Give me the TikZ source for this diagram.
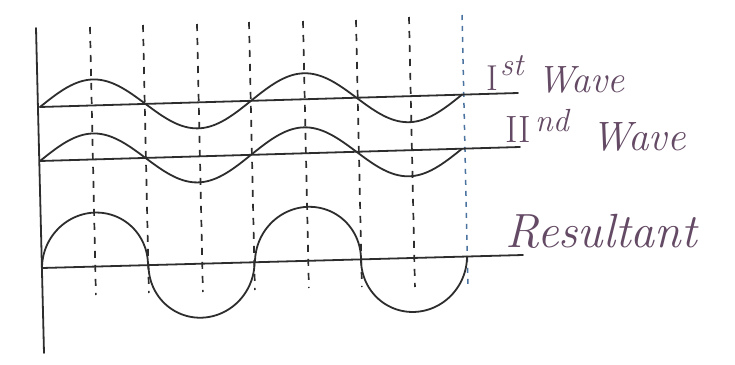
\documentclass[tikz,border=0pt]{standalone}
\usepackage{fontspec}
\definecolor{ink}{RGB}{100,74,100}
\definecolor{pen}{RGB}{45,45,45}
\definecolor{bluepen}{RGB}{75,115,160}
\begin{document}
\begin{tikzpicture}[x=1pt,y=-1pt,line cap=round,
  declare function={wa(\t)=107-0.0293*(\t-40);wb(\t)=161-0.029*(\t-40);rb(\t)=268-0.027*(\t-42);},
  penline/.style={draw=pen,line width=1.8pt},
  guide/.style={draw=pen,line width=1.7pt,line cap=butt,dash pattern=on 7pt off 7pt},
  blueguide/.style={draw=bluepen,line width=1.5pt,line cap=butt,dash pattern=on 5pt off 6pt},
  lbl/.style={text=ink,inner sep=0pt,anchor=base west}]
\useasboundingbox[fill=white] (0,0) rectangle (735,364);
% axis
\coordinate (axT) at (36,28);
\coordinate (axB) at (44,353);
\draw[penline] (axT) -- (axB);
% dashed guides
\foreach \xt/\ya/\yb in {90/27/295,143/25/293,197/24/292,249/22/290,303/21/288,356/20/287,409/17/287}{
  \draw[guide] (\xt,\ya) -- ({\xt+0.022*(\yb-\ya)},\yb);
}
\draw[blueguide] (462,15) -- (468,286);
% first wave
\coordinate (a0) at (40,107);
\coordinate (a1) at (518,93);
\draw[penline] (a0) -- (a1);
\draw[penline] plot[domain=40:462,samples=140,smooth] (\x,{wa(\x)-26*sin((\x-40)*1.70616)});
% second wave
\coordinate (b0) at (40,161);
\coordinate (b1) at (520,147);
\draw[penline] (b0) -- (b1);
\draw[penline] plot[domain=40:462,samples=140,smooth] (\x,{wb(\x)-26*sin((\x-40)*1.70616)});
% resultant
\coordinate (r0) at (42,268);
\coordinate (r1) at (523,255);
\draw[penline] (r0) -- (r1);
\foreach \c/\sa/\sb in {95/180/360,201.5/180/0,308/180/360,414/180/0}{
  \draw[penline] plot[domain=\sa:\sb,samples=60,smooth] ({\c+53*cos(\x)},{rb(\c+53*cos(\x))+54*sin(\x)});
}
% labels
\node[lbl,font=\fontsize{36}{36}\selectfont] (I1) at (486,90) {I};
\node[lbl,font=\fontsize{32}{32}\selectfont\itshape] (st1) at (500,75) {st};
\node[lbl,font=\fontsize{38}{38}\selectfont\itshape] (w1) at (537,92) {Wave};
\node[lbl,font=\fontsize{38}{38}\selectfont] (II2) at (505,142) {II};
\node[lbl,font=\fontsize{32}{32}\selectfont\itshape] (nd2) at (535,131) {nd};
\node[lbl,font=\fontsize{41}{41}\selectfont\itshape] (w2) at (591,150) {Wave};
\node[lbl,font=\fontsize{48}{48}\selectfont\itshape] (res) at (505,247) {Resultant};
\end{tikzpicture}
\end{document}
